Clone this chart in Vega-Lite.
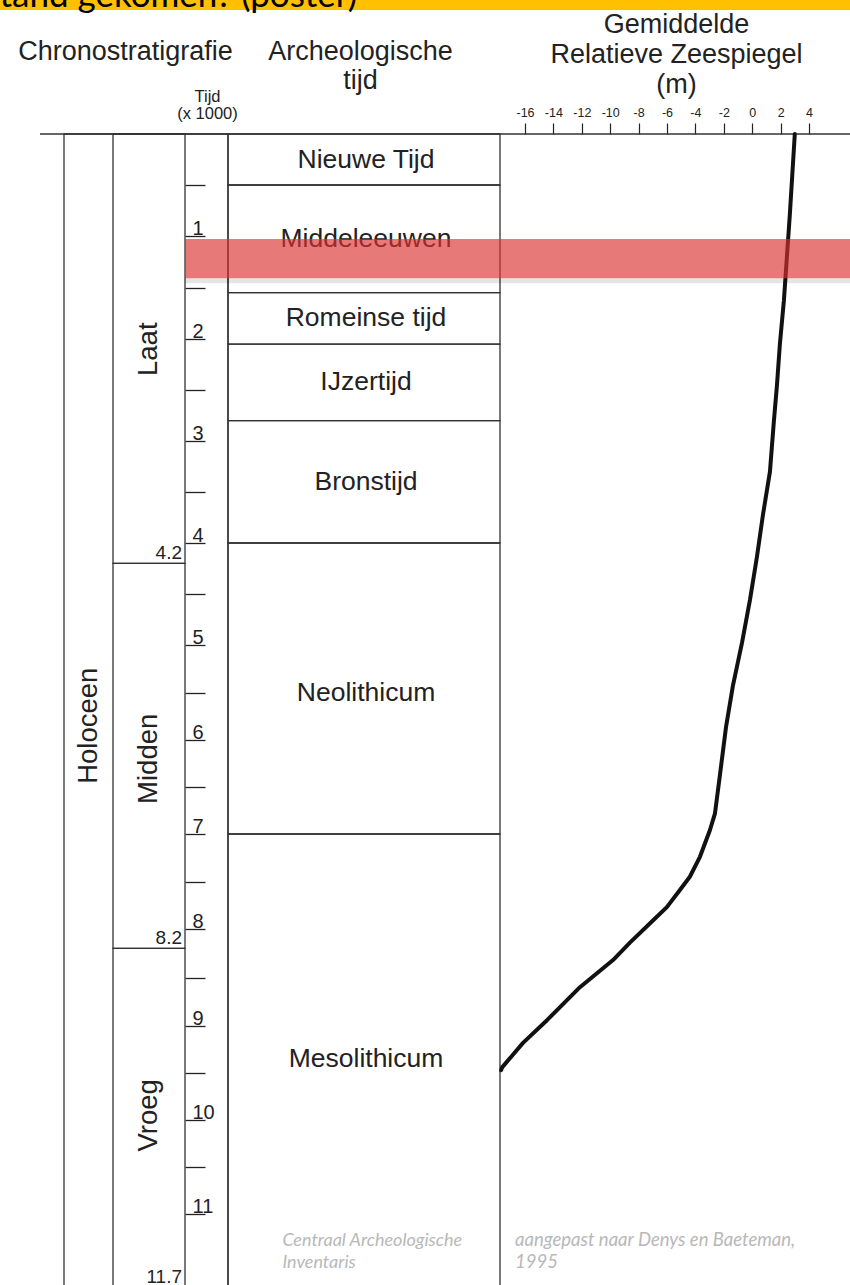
{
  "$schema": "https://vega.github.io/schema/vega-lite/v6.json",
  "width": 850,
  "height": 1275,
  "autosize": {"type": "none"},
  "padding": {"top": 10, "left": 0, "right": 0, "bottom": 0},
  "background": "#ffc000",
  "view": {"fill": "#ffffff", "stroke": null},
  "config": {"view": {"stroke": null}, "axis": {"grid": false}},
  "datasets": {
    "chrono": [
      {"unit": "Holoceen", "rank": "epoch", "start": 0, "end": 11.7},
      {"unit": "Laat", "rank": "sub", "start": 0, "end": 4.2},
      {"unit": "Midden", "rank": "sub", "start": 4.2, "end": 8.2},
      {"unit": "Vroeg", "rank": "sub", "start": 8.2, "end": 11.7}
    ],
    "periods": [
      {"period": "Nieuwe Tijd", "start": 0, "end": 0.5},
      {"period": "Middeleeuwen", "start": 0.5, "end": 1.55},
      {"period": "Romeinse tijd", "start": 1.55, "end": 2.05},
      {"period": "IJzertijd", "start": 2.05, "end": 2.8},
      {"period": "Bronstijd", "start": 2.8, "end": 4.0},
      {"period": "Neolithicum", "start": 4.0, "end": 7.0},
      {"period": "Mesolithicum", "start": 7.0, "end": 11.7}
    ],
    "sealevel": [
      {"t": 0, "level": 3.0},
      {"t": 0.79, "level": 2.65},
      {"t": 1.21, "level": 2.44},
      {"t": 1.63, "level": 2.23},
      {"t": 2.05, "level": 1.95},
      {"t": 2.46, "level": 1.74},
      {"t": 2.8, "level": 1.53},
      {"t": 3.3, "level": 1.25},
      {"t": 3.73, "level": 0.75},
      {"t": 4.14, "level": 0.33},
      {"t": 4.56, "level": -0.16},
      {"t": 4.98, "level": -0.72},
      {"t": 5.43, "level": -1.36},
      {"t": 5.87, "level": -1.85},
      {"t": 6.37, "level": -2.27},
      {"t": 6.78, "level": -2.62},
      {"t": 6.96, "level": -2.98},
      {"t": 7.24, "level": -3.68},
      {"t": 7.45, "level": -4.39},
      {"t": 7.59, "level": -5.09},
      {"t": 7.77, "level": -6.01},
      {"t": 7.91, "level": -6.99},
      {"t": 8.14, "level": -8.61},
      {"t": 8.32, "level": -9.8},
      {"t": 8.6, "level": -12.13},
      {"t": 8.94, "level": -14.45},
      {"t": 9.18, "level": -16.14},
      {"t": 9.44, "level": -17.61},
      {"t": 9.47, "level": -17.68}
    ],
    "highlight": [{"label": "markering", "start": 1.03, "end": 1.41}],
    "credits": [
      {"source": "CAI", "text": ["Centraal Archeologische", "Inventaris"]},
      {"source": "Denys", "text": ["aangepast naar Denys en Baeteman,", "1995"]}
    ]
  },
  "resolve": {"scale": {"x": "independent"}, "axis": {"x": "independent"}},
  "layer": [
    {
      "data": {"name": "chrono"},
      "layer": [
        {
          "transform": [{"filter": "datum.rank === 'epoch'"}],
          "mark": {"type": "rect", "filled": false, "color": "#333333", "strokeWidth": 1.3},
          "encoding": {
            "x": {"datum": 1, "type": "quantitative", "scale": {"domain": [0,1,2,3,4,5,6], "range": [40,64,113,185,228,500,850], "zero": false, "nice": false},
              "axis": {"orient": "top", "offset": 0, "domain": false, "ticks": false, "labels": false, "grid": false, "title": "Chronostratigrafie", "titleX": 125, "titleY": 49, "titleAlign": "center", "titleBaseline": "alphabetic", "titleFont": "Liberation Sans", "titleFontSize": 27, "titleFontWeight": "normal", "titleColor": "#222222"}},
            "x2": {"datum": 4},
            "y": {"field": "start", "type": "quantitative", "scale": {"domain": [0,1,2,3,4,5,6,7,8,9,10,11,11.7], "range": [124,226,329,431,533,635,730,824,919,1016,1110,1204,1277], "zero": false, "nice": false},
              "axis": {"orient": "right", "offset": -665, "values": [0.5,1,1.5,2,2.5,3,3.5,4,4.5,5,5.5,6,6.5,7,7.5,8,8.5,9,9.5,10,10.5,11], "tickSize": 20, "tickColor": "#222222", "tickWidth": 1.3, "domain": false, "grid": false, "labelExpr": "datum.value % 1 === 0 ? '' + datum.value : ''", "labelAlign": "left", "labelBaseline": "alphabetic", "labelPadding": -13, "labelOffset": -2, "labelFont": "Liberation Sans", "labelFontSize": 20, "labelColor": "#222222", "labelOverlap": false, "labelFlush": false, "labelBound": false, "title": ["Tijd", "(x 1000)"], "titleAngle": 0, "titleAlign": "center", "titleBaseline": "alphabetic", "titleX": 22, "titleY": 91, "titleFont": "Liberation Sans", "titleFontSize": 16.5, "titleFontWeight": "normal", "titleLineHeight": 17, "titleColor": "#222222"}},
            "y2": {"field": "end"}
          }
        },
        {
          "transform": [{"filter": "datum.rank === 'epoch'"}],
          "mark": {"type": "rule", "color": "#333333", "strokeWidth": 1.3},
          "encoding": {
            "x": {"datum": 0, "type": "quantitative", "scale": {"domain": [0,1,2,3,4,5,6], "range": [40,64,113,185,228,500,850], "zero": false, "nice": false}},
            "x2": {"datum": 6},
            "y": {"field": "start", "type": "quantitative", "scale": {"domain": [0,1,2,3,4,5,6,7,8,9,10,11,11.7], "range": [124,226,329,431,533,635,730,824,919,1016,1110,1204,1277], "zero": false, "nice": false}}
          }
        },
        {
          "transform": [{"filter": "datum.rank === 'sub'"}],
          "mark": {"type": "rect", "filled": false, "color": "#333333", "strokeWidth": 1.3},
          "encoding": {
            "x": {"datum": 2, "type": "quantitative", "scale": {"domain": [0,1,2,3,4,5,6], "range": [40,64,113,185,228,500,850], "zero": false, "nice": false}},
            "x2": {"datum": 3},
            "y": {"field": "start", "type": "quantitative", "scale": {"domain": [0,1,2,3,4,5,6,7,8,9,10,11,11.7], "range": [124,226,329,431,533,635,730,824,919,1016,1110,1204,1277], "zero": false, "nice": false}},
            "y2": {"field": "end"}
          }
        },
        {
          "transform": [{"filter": "datum.rank === 'sub'"}],
          "mark": {"type": "text", "align": "right", "baseline": "alphabetic", "dx": -3, "dy": -4, "font": "Liberation Sans", "fontSize": 19, "color": "#222222"},
          "encoding": {
            "x": {"datum": 3, "type": "quantitative", "scale": {"domain": [0,1,2,3,4,5,6], "range": [40,64,113,185,228,500,850], "zero": false, "nice": false}},
            "y": {"field": "end", "type": "quantitative", "scale": {"domain": [0,1,2,3,4,5,6,7,8,9,10,11,11.7], "range": [124,226,329,431,533,635,730,824,919,1016,1110,1204,1277], "zero": false, "nice": false}},
            "text": {"field": "end", "type": "quantitative", "format": ".1f"}
          }
        },
        {
          "transform": [
            {"fold": ["start", "end"], "as": ["edge", "age"]},
            {"aggregate": [{"op": "mean", "field": "age", "as": "mid"}], "groupby": ["unit", "rank"]},
            {"filter": "datum.rank === 'epoch'"}
          ],
          "mark": {"type": "text", "angle": 270, "align": "center", "baseline": "middle", "font": "Liberation Sans", "fontSize": 27.5, "color": "#222222"},
          "encoding": {
            "x": {"datum": 1.5, "type": "quantitative", "scale": {"domain": [0,1,2,3,4,5,6], "range": [40,64,113,185,228,500,850], "zero": false, "nice": false}},
            "y": {"field": "mid", "type": "quantitative", "scale": {"domain": [0,1,2,3,4,5,6,7,8,9,10,11,11.7], "range": [124,226,329,431,533,635,730,824,919,1016,1110,1204,1277], "zero": false, "nice": false}},
            "text": {"field": "unit", "type": "nominal"}
          }
        },
        {
          "transform": [
            {"fold": ["start", "end"], "as": ["edge", "age"]},
            {"aggregate": [{"op": "mean", "field": "age", "as": "mid"}], "groupby": ["unit", "rank"]},
            {"filter": "datum.rank === 'sub'"}
          ],
          "mark": {"type": "text", "angle": 270, "align": "center", "baseline": "middle", "font": "Liberation Sans", "fontSize": 27.5, "color": "#222222"},
          "encoding": {
            "x": {"datum": 2.5, "type": "quantitative", "scale": {"domain": [0,1,2,3,4,5,6], "range": [40,64,113,185,228,500,850], "zero": false, "nice": false}},
            "y": {"field": "mid", "type": "quantitative", "scale": {"domain": [0,1,2,3,4,5,6,7,8,9,10,11,11.7], "range": [124,226,329,431,533,635,730,824,919,1016,1110,1204,1277], "zero": false, "nice": false}},
            "text": {"field": "unit", "type": "nominal"}
          }
        }
      ]
    },
    {
      "data": {"name": "periods"},
      "layer": [
        {
          "mark": {"type": "rect", "filled": false, "color": "#333333", "strokeWidth": 1.3},
          "encoding": {
            "x": {"datum": 4, "type": "quantitative", "scale": {"domain": [0,1,2,3,4,5,6], "range": [40,64,113,185,228,500,850], "zero": false, "nice": false},
              "axis": {"orient": "top", "offset": 0, "domain": false, "ticks": false, "labels": false, "grid": false, "title": ["Archeologische", "tijd"], "titleX": 360, "titleY": 49, "titleAlign": "center", "titleBaseline": "alphabetic", "titleFont": "Liberation Sans", "titleFontSize": 27, "titleFontWeight": "normal", "titleLineHeight": 29, "titleColor": "#222222"}},
            "x2": {"datum": 5},
            "y": {"field": "start", "type": "quantitative", "scale": {"domain": [0,1,2,3,4,5,6,7,8,9,10,11,11.7], "range": [124,226,329,431,533,635,730,824,919,1016,1110,1204,1277], "zero": false, "nice": false}},
            "y2": {"field": "end"}
          }
        },
        {
          "transform": [
            {"fold": ["start", "end"], "as": ["edge", "age"]},
            {"aggregate": [{"op": "mean", "field": "age", "as": "mid"}], "groupby": ["period"]}
          ],
          "mark": {"type": "text", "align": "center", "baseline": "middle", "font": "Liberation Sans", "fontSize": 26.5, "color": "#222222", "dx": 2},
          "encoding": {
            "x": {"datum": 4.5, "type": "quantitative", "scale": {"domain": [0,1,2,3,4,5,6], "range": [40,64,113,185,228,500,850], "zero": false, "nice": false}},
            "y": {"field": "mid", "type": "quantitative", "scale": {"domain": [0,1,2,3,4,5,6,7,8,9,10,11,11.7], "range": [124,226,329,431,533,635,730,824,919,1016,1110,1204,1277], "zero": false, "nice": false}},
            "text": {"field": "period", "type": "nominal"}
          }
        },
        {
          "data": {"name": "credits"},
          "transform": [{"filter": "datum.source === 'CAI'"}],
          "mark": {"type": "text", "align": "left", "baseline": "alphabetic", "font": "Lato", "fontStyle": "italic", "fontSize": 18, "lineHeight": 22, "color": "#b8b8b8"},
          "encoding": {
            "x": {"datum": 4.2, "type": "quantitative", "scale": {"domain": [0,1,2,3,4,5,6], "range": [40,64,113,185,228,500,850], "zero": false, "nice": false}},
            "y": {"datum": 11.31, "type": "quantitative", "scale": {"domain": [0,1,2,3,4,5,6,7,8,9,10,11,11.7], "range": [124,226,329,431,533,635,730,824,919,1016,1110,1204,1277], "zero": false, "nice": false}},
            "text": {"field": "text", "type": "nominal"}
          }
        },
        {
          "data": {"name": "credits"},
          "transform": [{"filter": "datum.source === 'Denys'"}],
          "mark": {"type": "text", "align": "left", "baseline": "alphabetic", "font": "Lato", "fontStyle": "italic", "fontSize": 18.5, "lineHeight": 22, "color": "#b8b8b8"},
          "encoding": {
            "x": {"datum": 5.043, "type": "quantitative", "scale": {"domain": [0,1,2,3,4,5,6], "range": [40,64,113,185,228,500,850], "zero": false, "nice": false}},
            "y": {"datum": 11.31, "type": "quantitative", "scale": {"domain": [0,1,2,3,4,5,6,7,8,9,10,11,11.7], "range": [124,226,329,431,533,635,730,824,919,1016,1110,1204,1277], "zero": false, "nice": false}},
            "text": {"field": "text", "type": "nominal"}
          }
        }
      ]
    },
    {
      "data": {"name": "sealevel"},
      "mark": {"type": "line", "color": "#111111", "strokeWidth": 4, "strokeCap": "round", "strokeJoin": "round"},
      "encoding": {
        "x": {"field": "level", "type": "quantitative", "scale": {"domain": [-16, 4], "range": [525, 809], "zero": false, "nice": false},
          "axis": {"orient": "top", "offset": -124, "values": [-16,-14,-12,-10,-8,-6,-4,-2,0,2,4], "tickSize": 11, "tickColor": "#222222", "tickWidth": 1.2, "domain": false, "grid": false, "labelExpr": "'' + datum.value", "labelFont": "Liberation Sans", "labelFontSize": 12.5, "labelColor": "#222222", "labelPadding": 4, "labelFlush": false, "labelOverlap": false, "labelBound": false, "title": ["Gemiddelde", "Relatieve Zeespiegel", "(m)"], "titleX": 676, "titleY": -102, "titleAlign": "center", "titleBaseline": "alphabetic", "titleFont": "Liberation Sans", "titleFontSize": 27, "titleFontWeight": "normal", "titleLineHeight": 30, "titleColor": "#222222"}},
        "y": {"field": "t", "type": "quantitative", "scale": {"domain": [0,1,2,3,4,5,6,7,8,9,10,11,11.7], "range": [124,226,329,431,533,635,730,824,919,1016,1110,1204,1277], "zero": false, "nice": false}},
        "order": {"field": "t", "type": "quantitative"}
      }
    },
    {
      "data": {"name": "highlight"},
      "layer": [
        {
          "mark": {"type": "rect", "color": "#000000", "opacity": 0.1, "y2Offset": 5},
          "encoding": {
            "x": {"datum": 3, "type": "quantitative", "scale": {"domain": [0,1,2,3,4,5,6], "range": [40,64,113,185,228,500,850], "zero": false, "nice": false},
              "axis": {"orient": "top", "offset": 0, "domain": false, "ticks": false, "labels": false, "grid": false, "title": "tand gekomen? (poster)", "titleX": -1, "titleY": -4, "titleAlign": "left", "titleBaseline": "alphabetic", "titleFont": "Lato", "titleFontSize": 35, "titleFontWeight": "normal", "titleColor": "#000000"}},
            "x2": {"datum": 6},
            "y": {"field": "end", "type": "quantitative", "scale": {"domain": [0,1,2,3,4,5,6,7,8,9,10,11,11.7], "range": [124,226,329,431,533,635,730,824,919,1016,1110,1204,1277], "zero": false, "nice": false}},
            "y2": {"field": "end"}
          }
        },
        {
          "mark": {"type": "rect", "color": "#dc3131", "opacity": 0.65},
          "encoding": {
            "x": {"datum": 3, "type": "quantitative", "scale": {"domain": [0,1,2,3,4,5,6], "range": [40,64,113,185,228,500,850], "zero": false, "nice": false}},
            "x2": {"datum": 6},
            "y": {"field": "start", "type": "quantitative", "scale": {"domain": [0,1,2,3,4,5,6,7,8,9,10,11,11.7], "range": [124,226,329,431,533,635,730,824,919,1016,1110,1204,1277], "zero": false, "nice": false}},
            "y2": {"field": "end"}
          }
        }
      ]
    }
  ]
}
